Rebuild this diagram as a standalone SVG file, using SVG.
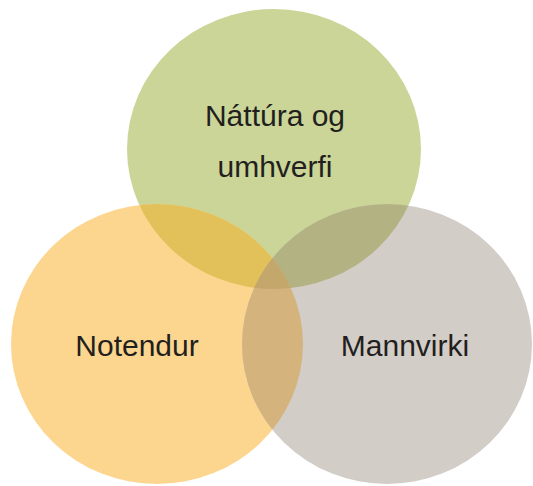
<svg xmlns="http://www.w3.org/2000/svg" width="533" height="486" viewBox="0 0 533 486">
<style>
text{font-family:"Liberation Sans",Arial,sans-serif;font-size:30px;fill:#231f20;text-anchor:middle}
</style>
<defs>
<ellipse id="cT" cx="274" cy="149" rx="147" ry="140"/>
<ellipse id="cL" cx="157" cy="344" rx="146" ry="140"/>
<ellipse id="cR" cx="387" cy="344" rx="145" ry="140"/>
<clipPath id="clipT"><use href="#cT"/></clipPath>
<clipPath id="clipL"><use href="#cL"/></clipPath>
<clipPath id="clipR"><use href="#cR"/></clipPath>
</defs>
<rect width="533" height="486" fill="#ffffff"/>
<g id="node-natura"><use href="#cT" fill="#cad597"/></g>
<g id="node-notendur"><use href="#cL" fill="#fcd68f"/></g>
<g id="node-mannvirki"><use href="#cR" fill="#d3cdc7"/></g>
<g id="overlaps">
<use href="#cL" fill="#e2c15a" clip-path="url(#clipT)"/>
<use href="#cR" fill="#b3b283" clip-path="url(#clipT)"/>
<use href="#cR" fill="#d4b37d" clip-path="url(#clipL)"/>
<g clip-path="url(#clipT)"><use href="#cR" fill="#c4a76a" clip-path="url(#clipL)"/></g>
</g>
<g id="connectors"></g>
<g id="labels">
<text x="275" y="126">Náttúra og</text>
<text x="275" y="177">umhverfi</text>
<text x="137" y="356">Notendur</text>
<text x="405" y="356">Mannvirki</text>
</g>
</svg>
